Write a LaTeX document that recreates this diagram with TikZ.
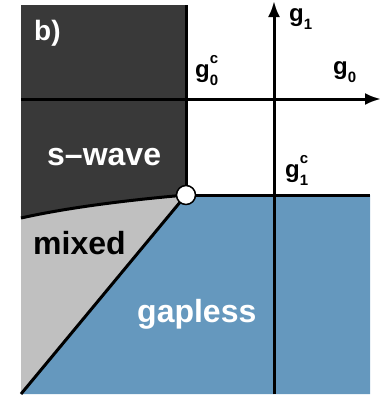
\documentclass[tikz,border=0pt]{standalone}
\usepackage{fontspec}
\setmainfont{Liberation Sans}
\usetikzlibrary{arrows.meta}
\definecolor{darkreg}{HTML}{393939}
\definecolor{grayreg}{HTML}{C0C0C0}
\definecolor{bluereg}{HTML}{6598BE}
\newcommand{\glab}[2]{g\rlap{\raisebox{14pt}{\fontsize{15}{15}\selectfont #2}}\raisebox{-8pt}{\fontsize{15}{15}\selectfont #1}}
\tikzset{
  border/.style={line width=3pt},
  axis/.style={line width=3pt,-{Latex[length=16pt,width=12pt]}},
  bigtxt/.style={inner sep=0pt,anchor=base west,font=\fontsize{32}{32}\selectfont\bfseries},
  glabel/.style={inner sep=0pt,anchor=base west,font=\fontsize{24}{24}\selectfont\bfseries},
}
\begin{document}
\begin{tikzpicture}[x=1pt,y=-1pt]
\useasboundingbox (0,0) rectangle (381,397);
\coordinate (TL) at (21,5);
\coordinate (TR) at (186,5);
\coordinate (C) at (186,195);
\coordinate (CL) at (21,218);
\coordinate (BL) at (21,394);
\coordinate (BR) at (370,394);
\coordinate (R) at (370,195);
% regions
\fill[darkreg] (TL) -- (TR) -- (C) .. controls (140,199) and (75,206) .. (CL) -- cycle;
\fill[grayreg] (CL) .. controls (75,206) and (140,199) .. (C) -- (BL) -- cycle;
\fill[bluereg] (C) -- (R) -- (BR) -- (BL) -- cycle;
% borders
\draw[border] (TR) -- (C);
\draw[border] (C) .. controls (140,199) and (75,206) .. (CL);
\draw[border] (C) -- (BL);
\draw[border] (C) -- (R);
% axes
\coordinate (x0) at (21,99);
\coordinate (x1) at (381,99);
\coordinate (y0) at (274,394);
\coordinate (y1) at (274,1);
\draw[axis] (x0) -- (x1);
\draw[axis] (y0) -- (y1);
% critical point
\node[circle,draw=black,line width=1.5pt,fill=white,minimum size=19pt,inner sep=0pt] (cp) at (C) {};
% labels
\node[bigtxt,white,font=\fontsize{28}{28}\selectfont\bfseries] (lb) at (34,40) {b)};
\node[bigtxt,white] (sw) at (47,165) {s–wave};
\node[bigtxt,black] (mx) at (33,254) {mixed};
\node[bigtxt,white] (gp) at (137,322) {gapless};
\node[glabel] (g0c) at (195,77) {\glab{0}{c}};
\node[glabel] (g0) at (333,74) {\glab{0}{}};
\node[glabel] (g1) at (289,21) {\glab{1}{}};
\node[glabel] (g1c) at (285,177) {\glab{1}{c}};
\end{tikzpicture}
\end{document}
